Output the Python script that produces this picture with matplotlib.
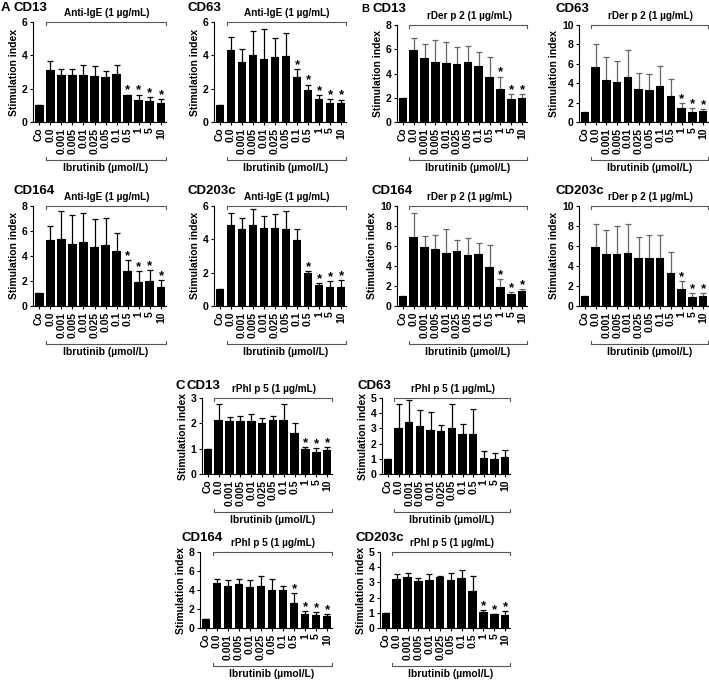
import matplotlib
matplotlib.use("Agg")
import matplotlib.pyplot as plt
import matplotlib.transforms as mtransforms
import numpy as np

plt.rcParams['font.family'] = ['Liberation Sans', 'DejaVu Sans']

W, H = 709, 681

conc = ['Co', '0.0', '0.001', '0.005', '0.01', '0.025', '0.05', '0.1', '0.5', '1', '5', '10']

# ---- data ----
a_cd13_mean = [1.0, 3.15, 2.8, 2.8, 2.8, 2.75, 2.7, 2.9, 1.6, 1.35, 1.25, 1.15]
a_cd13_err = [0, 0.5, 0.4, 0.4, 0.6, 0.6, 0.35, 0.55, 0.05, 0.3, 0.25, 0.25]
a_cd13_sig = [8, 9, 10, 11]

a_cd63_mean = [1.0, 4.3, 3.6, 4.05, 3.8, 3.9, 3.95, 2.7, 1.9, 1.4, 1.15, 1.15]
a_cd63_err = [0, 0.8, 0.8, 1.4, 1.8, 1.15, 1.4, 0.5, 0.35, 0.2, 0.25, 0.2]
a_cd63_sig = [7, 8, 9, 10, 11]

b_cd13_mean = [1.95, 5.9, 5.25, 4.95, 4.9, 4.8, 4.95, 4.65, 3.7, 2.7, 1.9, 1.95]
b_cd13_err = [0, 1.05, 1.2, 1.8, 1.7, 1.35, 1.35, 1.15, 1.65, 1.05, 0.4, 0.35]
b_cd13_sig = [9, 10, 11]

b_cd63_mean = [1.0, 5.65, 4.35, 4.15, 4.65, 3.45, 3.35, 3.75, 2.7, 1.4, 1.05, 1.1]
b_cd63_err = [0, 2.4, 2.35, 2.1, 2.75, 1.6, 1.6, 2.0, 1.75, 0.55, 0.35, 0.25]
b_cd63_sig = [9, 10, 11]

a_cd164_mean = [1.0, 5.3, 5.35, 4.95, 5.1, 4.7, 4.85, 4.4, 2.8, 1.95, 2.0, 1.5]
a_cd164_err = [0, 1.1, 2.25, 2.35, 2.3, 2.25, 2.2, 1.4, 0.9, 0.85, 0.9, 0.6]
a_cd164_sig = [8, 9, 10, 11]

a_cd203c_mean = [1.0, 4.85, 4.6, 4.85, 4.65, 4.7, 4.6, 3.95, 1.95, 1.25, 1.15, 1.15]
a_cd203c_err = [0, 0.75, 0.7, 0.95, 0.75, 0.8, 1.1, 0.65, 0.15, 0.15, 0.35, 0.4]
a_cd203c_sig = [8, 9, 10, 11]

b_cd164_mean = [1.0, 6.85, 5.9, 5.7, 5.3, 5.5, 5.05, 5.2, 3.9, 1.9, 1.2, 1.5]
b_cd164_err = [0, 2.45, 1.05, 1.35, 2.35, 1.1, 1.75, 1.05, 2.2, 0.8, 0.15, 0.2]
b_cd164_sig = [9, 10, 11]

b_cd203c_mean = [1.0, 5.85, 5.2, 5.15, 5.25, 4.8, 4.75, 4.75, 3.3, 1.65, 0.9, 1.0]
b_cd203c_err = [0, 2.35, 2.35, 2.8, 2.9, 2.1, 2.3, 2.3, 2.1, 0.8, 0.35, 0.25]
b_cd203c_sig = [9, 10, 11]

c_cd13_mean = [1.0, 2.15, 2.1, 2.1, 2.1, 2.02, 2.12, 2.12, 1.6, 1.0, 0.88, 0.95]
c_cd13_err = [0, 0.6, 0.15, 0.2, 0.28, 0.18, 0.18, 0.63, 0.4, 0.07, 0.14, 0.1]
c_cd13_sig = [9, 10, 11]

c_cd63_mean = [1.0, 3.05, 3.4, 3.15, 2.9, 2.8, 3.0, 2.6, 2.6, 1.05, 1.0, 1.1]
c_cd63_err = [0, 1.55, 1.45, 1.05, 1.2, 0.45, 1.6, 0.7, 1.7, 0.45, 0.35, 0.5]
c_cd63_sig = []

c_cd164_mean = [1.0, 4.75, 4.45, 4.6, 4.35, 4.45, 3.95, 3.95, 2.65, 1.45, 1.35, 1.25]
c_cd164_err = [0, 0.45, 0.6, 0.55, 0.7, 1.05, 1.2, 0.5, 1.0, 0.35, 0.3, 0.2]
c_cd164_sig = [8, 9, 10, 11]

c_cd203c_mean = [1.0, 3.25, 3.35, 3.1, 3.15, 3.35, 3.15, 3.3, 2.45, 1.05, 0.9, 0.88]
c_cd203c_err = [0, 0.3, 0.25, 0.2, 0.4, 0.1, 0.5, 0.5, 0.95, 0.15, 0.03, 0.22]
c_cd203c_sig = [9, 10, 11]

stim_a = 'Anti-IgE (1 µg/mL)'
stim_b = 'rDer p 2 (1 µg/mL)'
stim_c = 'rPhl p 5 (1 µg/mL)'
xlab = 'Ibrutinib (µmol/L)'

fig = plt.figure(figsize=(W / 100, H / 100), dpi=100)


def panel(left, right, top, zero, mean, err, sig, ymax, ystep, stim, title,
          letter=None, title_x=None, title_y=None, letter_x=None, ecol='black'):
    ax = fig.add_axes([left / W, 1 - zero / H, (right - left) / W, (zero - top) / H])
    x = np.arange(len(conc))
    ax.bar(x, mean, width=0.8, color='black', zorder=2)
    yerr = np.vstack([np.zeros(len(err)), err])
    ax.errorbar(x, mean, yerr=yerr, fmt='none', ecolor=ecol, elinewidth=0.9,
                capsize=2.2, capthick=0.9, zorder=1)
    ax.set_xlim(-0.55, 11.45)
    ax.set_ylim(0, ymax)
    ax.set_yticks(np.arange(0, ymax + 0.01, ystep))
    ax.set_yticklabels([f'{v:g}' for v in np.arange(0, ymax + 0.01, ystep)],
                       fontsize=7.5, fontweight='bold')
    ax.set_xticks(x)
    ax.set_xticklabels(conc, rotation=90, fontsize=7.5, fontweight='bold')
    ax.tick_params(axis='both', length=2.5, width=0.8, pad=1.5)
    for s in ['top', 'right']:
        ax.spines[s].set_visible(False)
    for s in ['left', 'bottom']:
        ax.spines[s].set_linewidth(0.8)
    ax.set_ylabel('Stimulation index', fontsize=7.5, fontweight='bold', labelpad=2)
    for i in sig:
        ax.annotate('*', (x[i], mean[i] + err[i]), xytext=(0, -1.5),
                    textcoords='offset points', ha='center', va='bottom',
                    fontsize=9.5, fontweight='bold')
    # top bracket
    tr = mtransforms.blended_transform_factory(ax.transData, ax.transAxes)
    hook = 3 / (zero - top)
    ax.plot([0.6, 0.6, 11.45, 11.45], [1 - hook, 1, 1, 1 - hook], color='#555555',
            lw=0.8, transform=tr, clip_on=False)
    ax.text(6.1, 1 + 4 / (zero - top), stim, transform=tr, ha='center', va='bottom',
            fontsize=7.2, fontweight='bold')
    # bottom bracket
    yb = -38 / (zero - top)
    ax.plot([0.6, 0.6, 11.45, 11.45], [yb + hook, yb, yb, yb + hook], color='#555555',
            lw=0.8, transform=tr, clip_on=False)
    ax.text(6.0, yb - 3 / (zero - top), xlab, transform=tr, ha='center', va='top',
            fontsize=7.5, fontweight='bold')
    # titles
    fig.text(title_x / W, 1 - title_y / H, title, fontsize=9.5, fontweight='bold',
             ha='left', va='center')
    if letter is not None:
        fig.text(letter_x / W, 1 - title_y / H, letter, fontsize=9.5 if letter != 'B' else 8,
                 fontweight='bold', ha='left', va='center')
    return ax


# Row 1
panel(33, 166, 22, 122, a_cd13_mean, a_cd13_err, a_cd13_sig, 6, 2, stim_a, 'CD13',
      letter='A', title_x=13, title_y=8, letter_x=1)
panel(214, 346, 22, 122, a_cd63_mean, a_cd63_err, a_cd63_sig, 6, 2, stim_a, 'CD63',
      title_x=188, title_y=8)
panel(397, 527, 25, 122, b_cd13_mean, b_cd13_err, b_cd13_sig, 8, 2, stim_b, 'CD13',
      letter='B', title_x=373, title_y=9, letter_x=361, ecol='#666666')
panel(579, 708, 25, 122, b_cd63_mean, b_cd63_err, b_cd63_sig, 10, 2, stim_b, 'CD63',
      title_x=555, title_y=9, ecol='#666666')

# Row 2
panel(33, 166, 206, 306, a_cd164_mean, a_cd164_err, a_cd164_sig, 8, 2, stim_a, 'CD164',
      title_x=13, title_y=191)
panel(214, 346, 206, 306, a_cd203c_mean, a_cd203c_err, a_cd203c_sig, 6, 2, stim_a, 'CD203c',
      title_x=188, title_y=191)
panel(397, 527, 206, 306, b_cd164_mean, b_cd164_err, b_cd164_sig, 10, 2, stim_b, 'CD164',
      title_x=372, title_y=191, ecol='#666666')
panel(579, 708, 206, 306, b_cd203c_mean, b_cd203c_err, b_cd203c_sig, 10, 2, stim_b, 'CD203c',
      title_x=555, title_y=191, ecol='#666666')

# Row C1
panel(202, 332, 398, 474, c_cd13_mean, c_cd13_err, c_cd13_sig, 3, 1, stim_c, 'CD13',
      letter='C', title_x=187, title_y=386, letter_x=176)
panel(382, 510, 398, 474, c_cd63_mean, c_cd63_err, c_cd63_sig, 5, 1, stim_c, 'CD63',
      title_x=358, title_y=386)

# Row C2
panel(200, 332, 552, 628, c_cd164_mean, c_cd164_err, c_cd164_sig, 8, 2, stim_c, 'CD164',
      title_x=181, title_y=538)
panel(380, 510, 552, 628, c_cd203c_mean, c_cd203c_err, c_cd203c_sig, 5, 1, stim_c, 'CD203c',
      title_x=356, title_y=538)

fig.savefig('out.png', dpi=100)
